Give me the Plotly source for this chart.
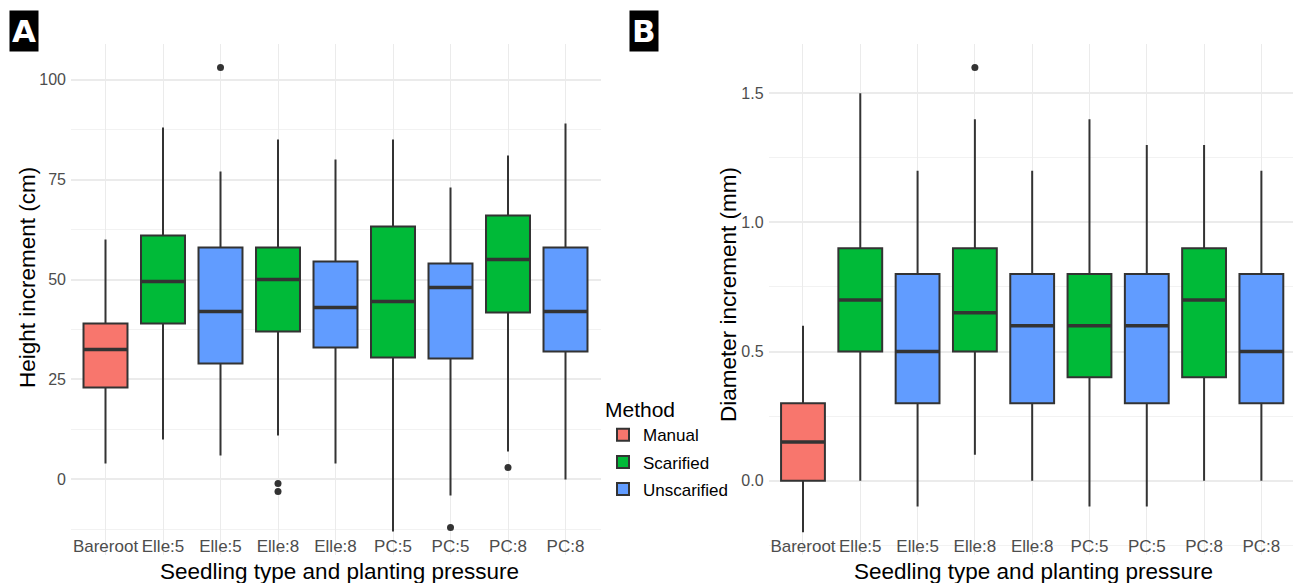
import plotly.graph_objects as go

W, H = 1293, 583

# ---- data ----
positions = [0, 1, 2, 3, 4, 5, 6, 7, 8]
tick_labels = ["Bareroot", "Elle:5", "Elle:5", "Elle:8", "Elle:8", "PC:5", "PC:5", "PC:8", "PC:8"]
methods = ["Manual", "Scarified", "Unscarified", "Scarified", "Unscarified",
           "Scarified", "Unscarified", "Scarified", "Unscarified"]

# Panel A: height increment (cm)
h_low = [4, 10, 6, 11, 4, -13, -4, 7, 0]
h_q1 = [23, 39, 29, 37, 33, 30.5, 30.25, 41.75, 32]
h_med = [32.5, 49.5, 42, 50, 43, 44.5, 48, 55, 42]
h_q3 = [39, 61, 58, 58, 54.5, 63.25, 54, 66, 58]
h_up = [60, 88, 77, 85, 80, 85, 73, 81, 89]
h_out_x = [2, 3, 3, 6, 7]
h_out_y = [103, -1, -3, -12, 3]

# Panel B: diameter increment (mm)
d_low = [-0.2, 0, -0.1, 0.1, 0, -0.1, -0.1, 0, 0]
d_q1 = [0, 0.5, 0.3, 0.5, 0.3, 0.4, 0.3, 0.4, 0.3]
d_med = [0.15, 0.7, 0.5, 0.65, 0.6, 0.6, 0.6, 0.7, 0.5]
d_q3 = [0.3, 0.9, 0.8, 0.9, 0.8, 0.8, 0.8, 0.9, 0.8]
d_up = [0.6, 1.5, 1.2, 1.4, 1.2, 1.4, 1.3, 1.3, 1.2]
d_out_x = [3]
d_out_y = [1.6]

method_order = ["Manual", "Scarified", "Unscarified"]
colors = {"Manual": "#F8766D", "Scarified": "#00BA38", "Unscarified": "#619CFF"}
outline = "#333333"
box_w = 0.765
FONT = "Liberation Sans, Arial, sans-serif"

fig = go.Figure()


def add_panel(low, q1, med, q3, up, out_x, out_y, xa, ya, show_legend):
    for m in method_order:
        idx = [i for i, mm in enumerate(methods) if mm == m]
        fig.add_trace(go.Box(
            x=[positions[i] for i in idx],
            lowerfence=[low[i] for i in idx],
            q1=[q1[i] for i in idx],
            median=[med[i] for i in idx],
            q3=[q3[i] for i in idx],
            upperfence=[up[i] for i in idx],
            width=box_w,
            whiskerwidth=0,
            fillcolor=colors[m],
            line=dict(color=outline, width=2),
            name=m, legendgroup=m, showlegend=show_legend,
            boxpoints=False,
            xaxis=xa, yaxis=ya,
        ))
    # thicker median lines
    mx, my = [], []
    hw = box_w / 2
    for p, v in zip(positions, med):
        mx += [p - hw, p + hw, None]
        my += [v, v, None]
    fig.add_trace(go.Scatter(x=mx, y=my, mode="lines",
                             line=dict(color=outline, width=3.5),
                             showlegend=False, hoverinfo="skip",
                             xaxis=xa, yaxis=ya))
    fig.add_trace(go.Scatter(x=out_x, y=out_y, mode="markers",
                             marker=dict(color=outline, size=7),
                             showlegend=False, xaxis=xa, yaxis=ya))


add_panel(h_low, h_q1, h_med, h_q3, h_up, h_out_x, h_out_y, "x", "y", True)
add_panel(d_low, d_q1, d_med, d_q3, d_up, d_out_x, d_out_y, "x2", "y2", False)

grid = "#EBEBEB"
ytickfont = dict(family=FONT, size=16, color="#4D4D4D")
xtickfont = dict(family=FONT, size=17, color="#4D4D4D")
ydom = [1 - 555 / H, 1 - 44 / H]

xcommon = dict(tickmode="array", tickvals=positions, ticktext=tick_labels,
               showgrid=True, gridcolor=grid, gridwidth=1.4, zeroline=False,
               showline=False, ticks="", tickfont=xtickfont,
               ticklabelstandoff=-21)
ycommon = dict(showgrid=True, gridcolor=grid, gridwidth=1.6, zeroline=False,
               showline=False, ticks="", tickfont=ytickfont, ticklabelstandoff=4)

fig.update_layout(
    width=W, height=H,
    margin=dict(l=0, r=0, t=0, b=0),
    paper_bgcolor="white", plot_bgcolor="white",
    boxmode="overlay",
    font=dict(family=FONT, color="black"),
    xaxis=dict(domain=[71 / W, 601 / W], range=[-0.6, -0.6 + 530 / 57.5], anchor="y", **xcommon),
    yaxis=dict(domain=ydom, range=[-18.9, 108.9], anchor="x", tickvals=[0, 25, 50, 75, 100],
               minor=dict(dtick=12.5, tick0=0, showgrid=True, gridcolor="#F2F2F2", gridwidth=1),
               **ycommon),
    xaxis2=dict(domain=[768.6 / W, 1.0], range=[-0.6, -0.6 + 524.4 / 57.3], anchor="y2", **xcommon),
    yaxis2=dict(domain=ydom, range=[-0.288, 1.691], anchor="x2", tickvals=[0, 0.5, 1.0, 1.5],
                ticktext=["0.0", "0.5", "1.0", "1.5"],
                minor=dict(dtick=0.25, tick0=0, showgrid=True, gridcolor="#F2F2F2", gridwidth=1),
                **ycommon),
    legend=dict(x=603 / W, y=1 - 390 / H, xanchor="left", yanchor="top",
                title=dict(text="Method", font=dict(family=FONT, size=21, color="black")),
                font=dict(family=FONT, size=17, color="black"),
                traceorder="grouped", tracegroupgap=2, bgcolor="rgba(0,0,0,0)"),
)

annots = [
    dict(text="<b>A</b>", x=23.5 / W, y=1 - 31 / H),
    dict(text="<b>B</b>", x=644 / W, y=1 - 31 / H),
]
for a in annots:
    fig.add_annotation(xref="paper", yref="paper", xanchor="center", yanchor="middle",
                       showarrow=False, bgcolor="black", borderpad=2,
                       font=dict(family="DejaVu Sans, Arial", size=31, color="white"), **a)

titles = [
    dict(text="Height increment (cm)", x=27 / W, y=1 - 278 / H, textangle=-90),
    dict(text="Diameter increment (mm)", x=728 / W, y=1 - 295 / H, textangle=-90),
    dict(text="Seedling type and planting pressure", x=339 / W, y=1 - 571 / H, textangle=0),
    dict(text="Seedling type and planting pressure", x=1033 / W, y=1 - 571 / H, textangle=0),
]
for t in titles:
    fig.add_annotation(xref="paper", yref="paper", xanchor="center", yanchor="middle",
                       showarrow=False, font=dict(family=FONT, size=22.5, color="black"), **t)

fig.write_html("out.html", config={"displayModeBar": False},
               post_script="document.body.style.margin='0px';document.body.style.overflow='hidden';")
